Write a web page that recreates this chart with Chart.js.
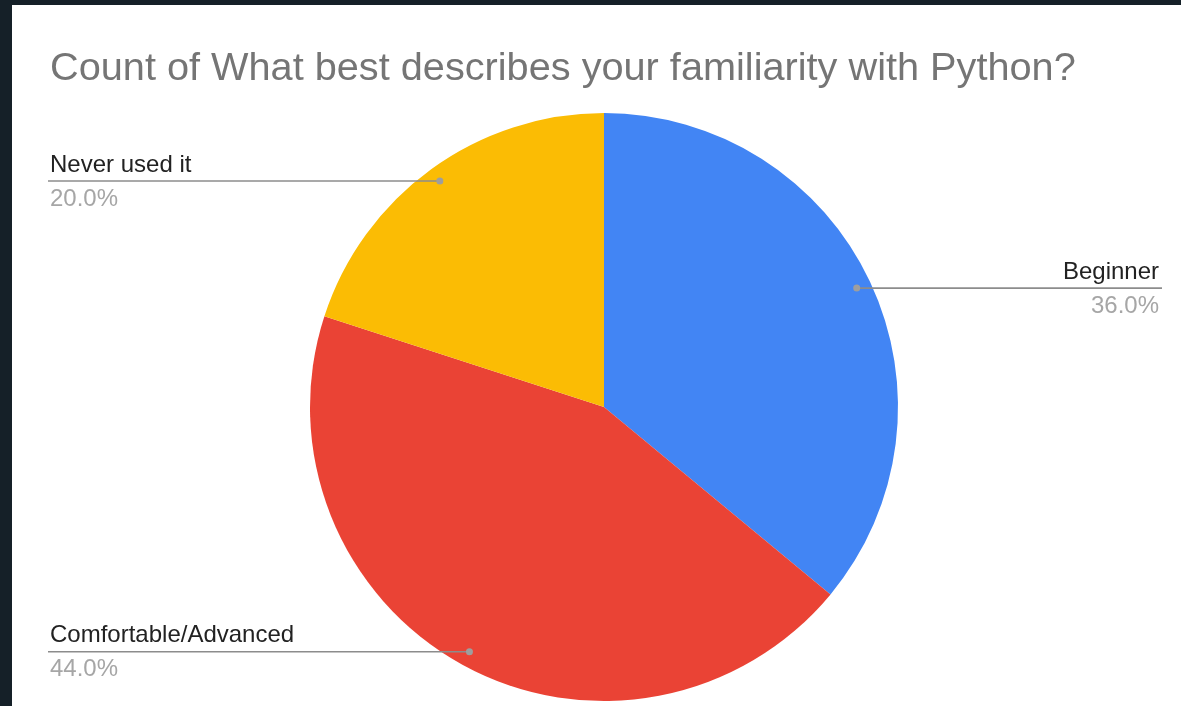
<!DOCTYPE html>
<html>
<head>
<meta charset="utf-8">
<script src="https://cdn.jsdelivr.net/npm/chart.js@4/dist/chart.umd.min.js"></script>
<style>
  html, body { margin: 0; padding: 0; }
  body { width: 1181px; height: 706px; background: #152028; position: relative; overflow: hidden; }
  #panel { position: absolute; left: 12px; top: 5px; width: 1169px; height: 701px; background: #ffffff; }
  #chart { display: block; }
</style>
</head>
<body>
<div id="panel"><canvas id="chart" width="1169" height="701"></canvas></div>
<script>
// Survey answers and how many respondents picked each one
const titleText = 'Count of What best describes your familiarity with Python?';
const categories = ['Beginner', 'Comfortable/Advanced', 'Never used it'];
const counts = [9, 11, 5];
const sliceColors = ['#4285f4', '#ea4335', '#fbbc04'];

const FONT = '"Liberation Sans", Arial, Helvetica, sans-serif';

// Title plus leader-line callouts (label above the line, share below it)
const calloutPlugin = {
  id: 'callouts',
  afterDatasetsDraw(chart) {
    const ctx = chart.ctx;
    const W = chart.width;
    const total = counts.reduce((a, b) => a + b, 0);
    const leftEdge = 36, rightEdge = W - 19;

    ctx.save();
    ctx.fillStyle = '#757575';
    ctx.font = '39.7px ' + FONT;
    ctx.textAlign = 'left';
    ctx.textBaseline = 'alphabetic';
    ctx.fillText(titleText, 38, 75);

    const meta = chart.getDatasetMeta(0);
    meta.data.forEach((arc, i) => {
      const p = arc.getProps(['x', 'y', 'startAngle', 'endAngle', 'outerRadius'], true);
      const mid = (p.startAngle + p.endAngle) / 2;
      const r = p.outerRadius * 0.95;
      const dx = p.x + Math.cos(mid) * r;
      const dy = p.y + Math.sin(mid) * r;
      const right = Math.cos(mid) >= 0;
      const endX = right ? rightEdge : leftEdge;

      ctx.strokeStyle = '#8c8c8c';
      ctx.lineWidth = 1.6;
      ctx.beginPath();
      ctx.moveTo(dx, dy);
      ctx.lineTo(endX, dy);
      ctx.stroke();

      ctx.fillStyle = '#9e9e9e';
      ctx.beginPath();
      ctx.arc(dx, dy, 3.5, 0, Math.PI * 2);
      ctx.fill();

      const tx = right ? rightEdge - 3 : leftEdge + 2;
      ctx.textAlign = right ? 'right' : 'left';
      ctx.font = '24px ' + FONT;
      ctx.fillStyle = '#222222';
      ctx.fillText(categories[i], tx, dy - 9.5);
      ctx.fillStyle = '#a6a6a6';
      const pct = (counts[i] / total * 100).toFixed(1) + '%';
      ctx.fillText(pct, tx, dy + 24.5);
    });
    ctx.restore();
  }
};

new Chart(document.getElementById('chart'), {
  type: 'pie',
  data: {
    labels: categories,
    datasets: [{
      data: counts,
      backgroundColor: sliceColors,
      borderWidth: 0,
      hoverOffset: 0
    }]
  },
  options: {
    responsive: false,
    animation: false,
    events: [],
    layout: { padding: { left: 298, right: 283, top: 108, bottom: 5 } },
    plugins: {
      legend: { display: false },
      title: { display: false },
      tooltip: { enabled: false }
    }
  },
  plugins: [calloutPlugin]
});
</script>
</body>
</html>
